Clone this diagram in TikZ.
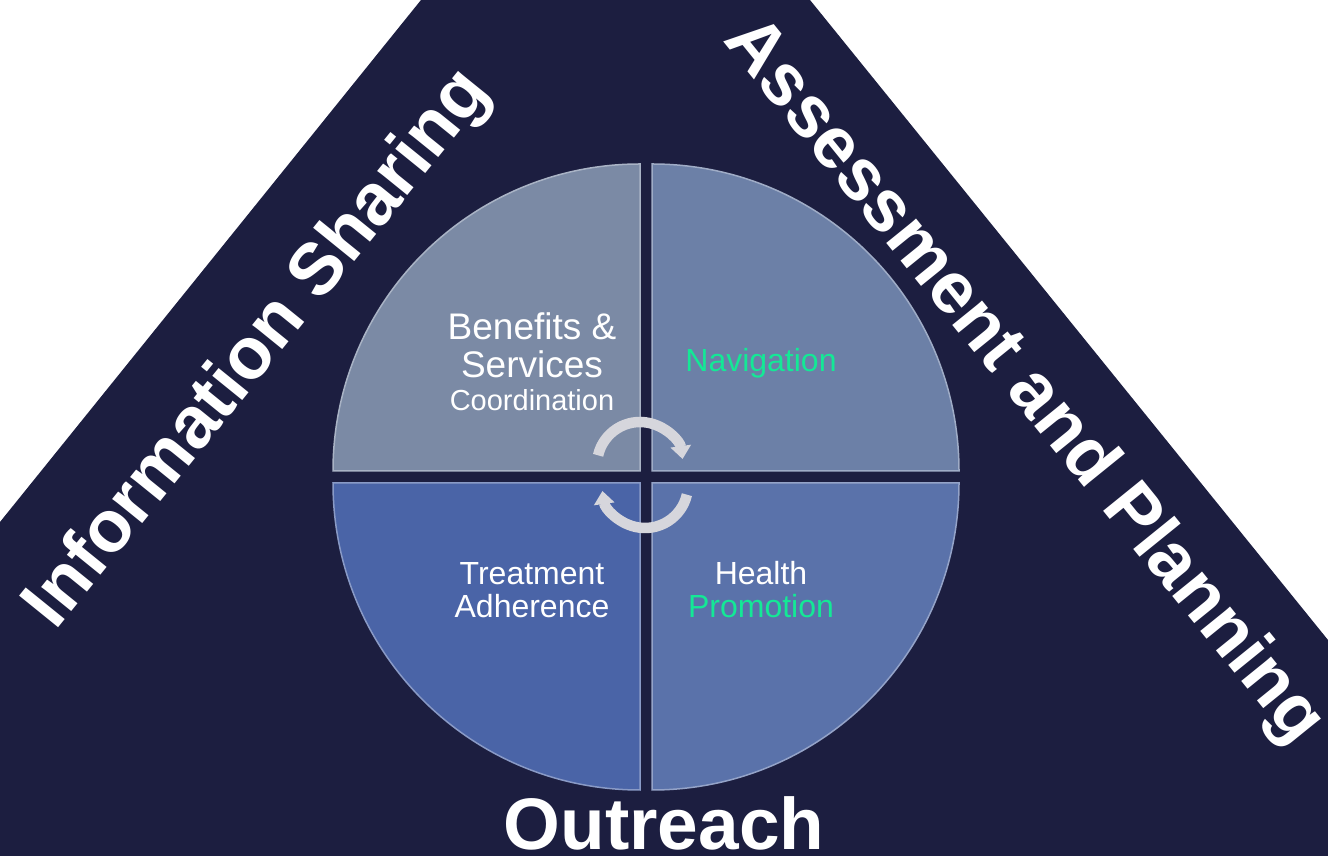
\documentclass[tikz,border=0pt]{standalone}
\usepackage{fontspec}
\setmainfont{Liberation Sans}
\usetikzlibrary{arrows.meta,positioning}
\definecolor{bgnavy}{RGB}{28,30,64}
\definecolor{qtl}{RGB}{123,138,165}
\definecolor{qtr}{RGB}{108,128,167}
\definecolor{qbl}{RGB}{74,100,167}
\definecolor{qbr}{RGB}{90,114,170}
\definecolor{mint}{RGB}{20,232,150}
\definecolor{silver}{RGB}{214,214,220}
\tikzset{
    quad/.style = {fill=#1, draw=#1!65!white, line width=1.5pt},
    lbl/.style = {text=white, anchor=base, inner sep=0pt,
        font=\fontsize{32}{36}\selectfont},
    biglbl/.style = {lbl, font=\fontsize{37}{40}\selectfont},
    smalllbl/.style = {lbl, font=\fontsize{29}{32}\selectfont},
    side/.style = {text=white, font=\bfseries\fontsize{73}{80}\selectfont},
    cyc/.style = {draw=silver, line width=10.5pt,
        -{Triangle[width=20pt,length=13pt]}}
}

\begin{document}
\begin{tikzpicture}[x=1pt,y=1pt]
    \useasboundingbox (0,0) rectangle (1328,856);
    \fill[white] (0,0) rectangle (1328,856);
    \fill[bgnavy] (421,856) -- (810,856) -- (1328,216) -- (1328,0) -- (0,0) -- (0,334) -- cycle;

    \filldraw[quad=qtl] (640,385) -- ++(180:307) arc (180:90:307) -- cycle;
    \filldraw[quad=qtr] (652,385) -- ++(90:307) arc (90:0:307) -- cycle;
    \filldraw[quad=qbl] (640,373) -- ++(270:307) arc (270:180:307) -- cycle;
    \filldraw[quad=qbr] (652,373) -- ++(0:307) arc (0:-90:307) -- cycle;

    \node[biglbl] (ben) at (532,516) {Benefits \&};
    \node[biglbl] (serv) at (532,478) {Services};
    \node[smalllbl] (coord) at (532,445) {Coordination};
    \node[lbl, text=mint] (nav) at (761,484) {Navigation};
    \node[lbl] (treat) at (532,271) {Treatment};
    \node[lbl] (adh) at (532,238) {Adherence};
    \node[lbl] (health) at (761,271) {Health};
    \node[lbl, text=mint] (promo) at (761,238) {Promotion};

    \draw[cyc] (640,391) ++(167:43) arc (167:8:43);
    \draw[cyc] (645,371) ++(-13:43) arc (-13:-172:43);

    \node[side, rotate=51] (info) at (259,506) {Information Sharing};
    \node[side, rotate=-51] (assess) at (1023,474) {Assessment and Planning};
    \node[side, anchor=base, inner sep=0pt] (outr) at (664,6) {Outreach};
\end{tikzpicture}
\end{document}
